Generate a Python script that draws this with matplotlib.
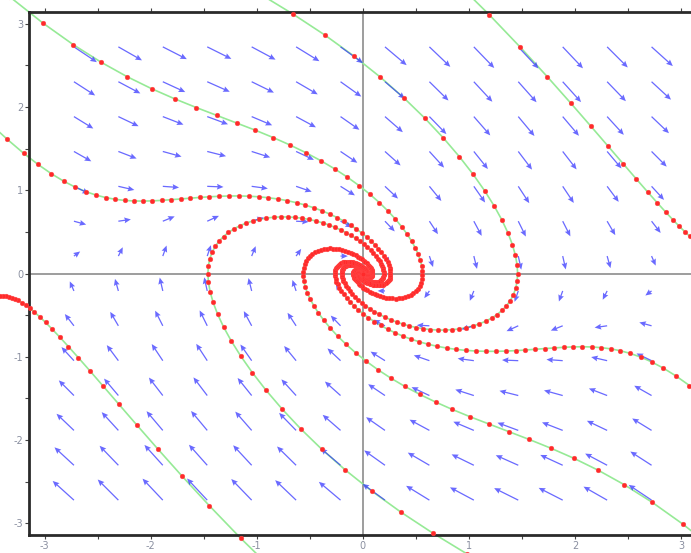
import numpy as np
import matplotlib
matplotlib.use("Agg")
import matplotlib.pyplot as plt

# ---- data: damped pendulum direction field  x' = y , y' = -K sin(x) - B y
K_GRAV = 1.0
B_DAMP = 1.0
X_RANGE = [-np.pi, np.pi]
Y_RANGE = [-np.pi, np.pi]
N_GRID = 15            # field arrows at interior points of a 15-step grid
ARROW_SCALE = 0.15     # arrow length = scale * sqrt(|f|)
DT = 0.1               # time between red dots

# trajectory seed points
seed_x = [-1.99, 1.99, 1.46, -1.46, 2.15, -2.13, -2.07, 2.07]
seed_y = [2.22, -2.22, 0.00, 0.00, 1.77, -1.82, 0.87, -0.88]
t_forward = [30, 30, 30, 30, 12, 12, 30, 30]
t_backward = [12, 12, 12, 12, 12, 12, 12, 12]

tick_vals = [-3, -2, -1, 0, 1, 2, 3]
tick_labels = ["-3", "-2", "-1", "0", "1", "2", "3"]


def field(x, y):
    return y, -K_GRAV * np.sin(x) - B_DAMP * y


def integrate(x0, y0, tmax, sign):
    sub = 8
    h = sign * DT / sub
    xs, ys = [x0], [y0]
    x, y = x0, y0
    for _ in range(int(round(tmax / DT))):
        for _ in range(sub):
            k1 = field(x, y)
            k2 = field(x + h / 2 * k1[0], y + h / 2 * k1[1])
            k3 = field(x + h / 2 * k2[0], y + h / 2 * k2[1])
            k4 = field(x + h * k3[0], y + h * k3[1])
            x += h / 6 * (k1[0] + 2 * k2[0] + 2 * k3[0] + k4[0])
            y += h / 6 * (k1[1] + 2 * k2[1] + 2 * k3[1] + k4[1])
        xs.append(x)
        ys.append(y)
        if abs(x) > 3.7 or abs(y) > 3.7:
            break
    return np.array(xs), np.array(ys)


fig = plt.figure(figsize=(6.91, 5.53), dpi=100)
ax = fig.add_axes([29.5 / 691, 18 / 553, 666.5 / 691, 523 / 553])
ax.set_xlim(*X_RANGE)
ax.set_ylim(*Y_RANGE)

ax.axhline(0, color="#959595", lw=1.3, zorder=1)
ax.axvline(0, color="#959595", lw=1.3, zorder=1)

# direction field
hx = (X_RANGE[1] - X_RANGE[0]) / N_GRID
hy = (Y_RANGE[1] - Y_RANGE[0]) / N_GRID
gx = X_RANGE[0] + hx * np.arange(1, N_GRID)
gy = Y_RANGE[0] + hy * np.arange(1, N_GRID)
GX, GY = np.meshgrid(gx, gy)
U, V = field(GX, GY)
M = np.hypot(U, V)
M[M == 0] = 1
L = ARROW_SCALE * np.sqrt(M)
ax.quiver(GX, GY, U / M * L, V / M * L, angles="xy", scale_units="xy", scale=1,
          pivot="tail", color="#3030ff", alpha=0.72, width=0.0019,
          headwidth=4.6, headlength=5.2, headaxislength=4.6, zorder=3)

# trajectories
for sx, sy, tf, tb in zip(seed_x, seed_y, t_forward, t_backward):
    xb, yb = integrate(sx, sy, tb, -1)
    xf, yf = integrate(sx, sy, tf, +1)
    xs = np.concatenate([xb[::-1], xf[1:]])
    ys = np.concatenate([yb[::-1], yf[1:]])
    ax.plot(xs, ys, color="#96ea96", lw=1.2, zorder=2, clip_on=False)
    ax.plot(xs, ys, ls="none", marker="o", ms=3.4, mfc="#ff2a2a", mec="#ff4a4a",
            mew=0.3, zorder=4, clip_on=False)

for side in ["top", "left", "bottom"]:
    ax.spines[side].set_linewidth(2.0)
    ax.spines[side].set_color("#2a2a2a")
ax.spines["right"].set_visible(False)

ax.set_xticks(tick_vals)
ax.set_xticklabels(tick_labels)
ax.set_yticks(tick_vals)
ax.set_yticklabels(tick_labels)
ax.set_xticks(np.arange(-3, 3.01, 0.5), minor=True)
ax.set_yticks(np.arange(-3, 3.01, 0.5), minor=True)
ax.tick_params(which="both", direction="out", top=True, right=False,
               labeltop=False, length=3, width=0.8, color="#444444",
               labelsize=7, labelcolor="#8a8fa0", pad=1.5)

fig.savefig("out.png", dpi=100)
